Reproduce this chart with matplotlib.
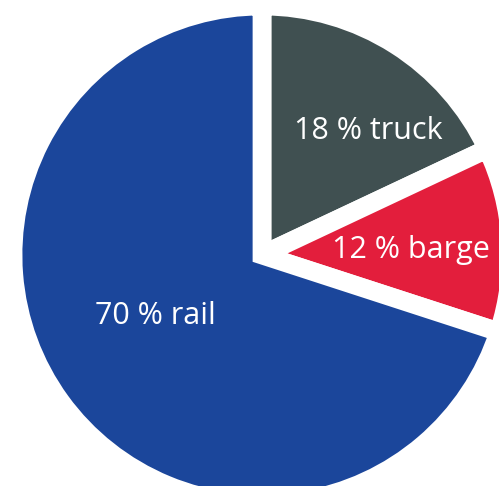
import matplotlib.pyplot as plt

# transport mode shares (%)
modes = ['truck', 'barge', 'rail']
shares = [18, 12, 70]
colors = ['#405051', '#e31e3c', '#1b469b']

# label anchor points (pixels from top-left), baseline of text
label_pos = [(368, 139), (411, 258), (155, 324)]

W, H = 499, 486
fig = plt.figure(figsize=(W / 100, H / 100), dpi=100)
ax = fig.add_axes([0, 0, 1, 1])

ax.pie(shares, colors=colors, startangle=90, counterclock=False,
       center=(262, H - 255), radius=249,
       wedgeprops=dict(edgecolor='white', linewidth=13.5))

ax.set_xlim(0, W)
ax.set_ylim(0, H)
ax.set_aspect('equal')
ax.axis('off')

for name, val, (x, y) in zip(modes, shares, label_pos):
    ax.text(x, H - y, f'{val} % {name}', color='white', fontsize=22,
            family='Open Sans', ha='center', va='baseline')

fig.savefig('out.png', dpi=100)
